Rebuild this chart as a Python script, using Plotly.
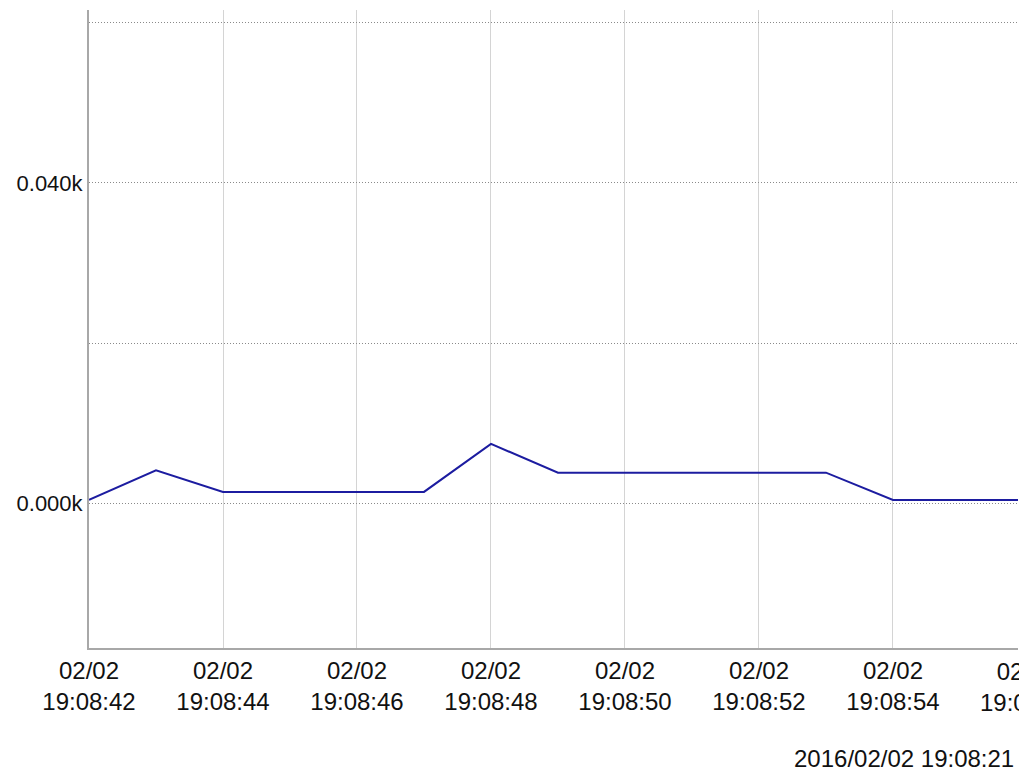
import plotly.graph_objects as go
from datetime import datetime

# Data
times = ["2016-02-02 19:08:%02d" % s for s in range(42, 57)]
values = [0.4, 4.1, 1.4, 1.4, 1.4, 1.4, 7.4, 3.8, 3.8, 3.8, 3.8, 3.8, 0.4, 0.4, 0.4]

x_tick_vals = ["2016-02-02 19:08:%02d" % s for s in range(42, 55, 2)]
x_tick_text = ["02/02<br>19:08:%02d" % s for s in range(42, 55, 2)]
extra_tick_val = "2016-02-02 19:08:56"
extra_tick_text = "02/02<br>19:08:56"

y_tick_vals = [0, 20, 40, 60]
y_tick_text = ["0.000k", "", "0.040k", ""]

timestamp_text = "2016/02/02 19:08:21"

x_range = ["2016-02-02 19:08:42", "2016-02-02 19:08:55.866"]

FONT = "Liberation Sans, Arial, sans-serif"

def _t(s):
    return datetime.strptime(s, "%Y-%m-%d %H:%M:%S.%f" if "." in s else "%Y-%m-%d %H:%M:%S")

# fraction of the x axis where the clipped last tick label sits
extra_frac = (_t(extra_tick_val) - _t(x_range[0])).total_seconds() / \
             (_t(x_range[1]) - _t(x_range[0])).total_seconds()

fig = go.Figure()
fig.add_trace(go.Scatter(
    x=times, y=values, mode="lines",
    line=dict(color="#1c1ca0", width=2),
    showlegend=False, hoverinfo="skip",
))

fig.update_layout(
    width=1019, height=765,
    margin=dict(l=81, r=9, t=2, b=125),
    paper_bgcolor="white", plot_bgcolor="white",
    font=dict(family=FONT, color="#111111"),
    xaxis=dict(
        type="date",
        range=x_range,
        tickmode="array", tickvals=x_tick_vals, ticktext=x_tick_text,
        showgrid=True, gridcolor="#d4d4d4", gridwidth=1,
        showline=True, linecolor="#a8a8a8", linewidth=2,
        ticks="", tickfont=dict(size=24, family=FONT, color="#111111"),
        zeroline=False,
    ),
    yaxis=dict(
        range=[-18.1, 61.6],
        tickmode="array", tickvals=y_tick_vals, ticktext=y_tick_text,
        showgrid=True, gridcolor="#8a8a8a", gridwidth=1, griddash="1px,2px",
        showline=True, linecolor="#a8a8a8", linewidth=2,
        ticks="", tickfont=dict(size=22, family=FONT, color="#111111"),
        zeroline=False,
    ),
)

fig.add_annotation(
    x=extra_frac, xref="paper", y=0, yref="paper",
    text=extra_tick_text, showarrow=False, yanchor="top", xanchor="center",
    font=dict(size=24, family=FONT, color="#111111"), yshift=-8,
)

fig.add_annotation(
    x=1, xref="paper", y=0, yref="paper",
    text=timestamp_text, showarrow=False, xanchor="right", yanchor="top",
    xshift=-2, yshift=-95,
    font=dict(size=24, family=FONT, color="#111111"),
)

fig.write_html("out.html")
